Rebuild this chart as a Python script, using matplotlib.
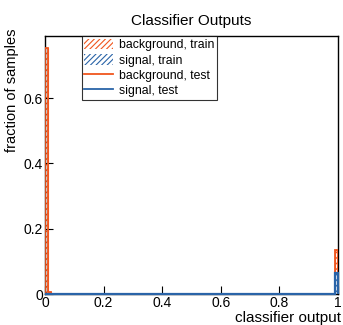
import numpy as np
import matplotlib
matplotlib.use("Agg")
import matplotlib.pyplot as plt
from matplotlib.lines import Line2D
from matplotlib.patches import Patch

plt.rcParams['font.family'] = ['Liberation Sans', 'DejaVu Sans']
plt.rcParams['hatch.linewidth'] = 0.8

# 100 bins on [0, 1]; only non-empty bins listed
n_bins = 100
bkg_train_bins = [0, 1, 99]
bkg_train_vals = [0.754, 0.005, 0.135]
sig_train_bins = [99]
sig_train_vals = [0.065]
bkg_test_bins = [0, 1, 99]
bkg_test_vals = [0.752, 0.006, 0.136]
sig_test_bins = [99]
sig_test_vals = [0.064]

orange = '#f0561e'
blue = '#2a64a8'

edges = np.linspace(0, 1, n_bins + 1)


def full(bins, vals):
    h = np.zeros(n_bins)
    h[bins] = vals
    return h


bkg_train = full(bkg_train_bins, bkg_train_vals)
sig_train = full(sig_train_bins, sig_train_vals)
bkg_test = full(bkg_test_bins, bkg_test_vals)
sig_test = full(sig_test_bins, sig_test_vals)

fig = plt.figure(figsize=(3.43, 3.25), dpi=100)
ax = fig.add_axes([0.131, 0.095, 0.854, 0.794])

ax.stairs(bkg_train, edges, fill=True, facecolor='white', edgecolor=orange,
          hatch='//////', lw=0.8)
ax.stairs(sig_train, edges, fill=True, facecolor='white', edgecolor=blue,
          hatch='//////', lw=0.8)
ax.stairs(bkg_test, edges, color=orange, lw=1.3, zorder=3)
ax.stairs(sig_test, edges, color=blue, lw=1.6, zorder=4, clip_on=False)

ax.set_xlim(0, 1)
ax.set_ylim(0, 0.79)
ax.set_xticks([0, 0.2, 0.4, 0.6, 0.8, 1])
ax.set_xticklabels(['0', '0.2', '0.4', '0.6', '0.8', '1'])
ax.set_yticks([0, 0.2, 0.4, 0.6])
ax.set_yticklabels(['0', '0.2', '0.4', '0.6'])
ax.tick_params(direction='in', length=6, width=0.8, labelsize=10, pad=1.5)
for s in ax.spines.values():
    s.set_linewidth(1.0)

ax.set_title('Classifier Outputs', fontsize=11, pad=8)
ax.set_xlabel('classifier output', fontsize=11, loc='right')
ax.xaxis.set_label_coords(1.01, -0.066)
ax.set_ylabel('fraction of samples', fontsize=10.5, loc='top')
ax.yaxis.set_label_coords(-0.09, 1.03)

handles = [
    Patch(facecolor='white', edgecolor=orange, hatch='//////', lw=0),
    Patch(facecolor='white', edgecolor=blue, hatch='//////', lw=0),
    Line2D([], [], color=orange, lw=1.3),
    Line2D([], [], color=blue, lw=1.3),
]
labels = ['background, train', 'signal, train', 'background, test', 'signal, test']
leg = ax.legend(handles, labels, loc='upper left', bbox_to_anchor=(0.125, 1.0),
                fontsize=8.8, frameon=True, fancybox=False, edgecolor='black',
                borderpad=0.2, labelspacing=0.22, handlelength=2.4,
                handleheight=1.0, handletextpad=0.5, borderaxespad=0)
leg.get_frame().set_linewidth(0.8)

fig.savefig('out.png', dpi=100)
